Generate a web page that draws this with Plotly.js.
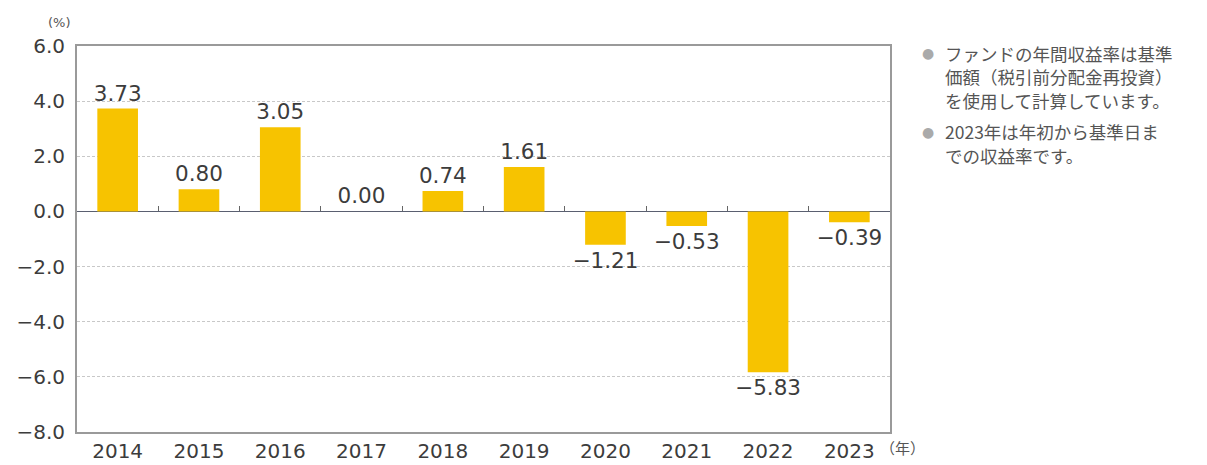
<!DOCTYPE html>
<html><head><meta charset="utf-8">
<script src="https://cdn.plot.ly/plotly-3.0.1.min.js"></script>
<style>html,body{margin:0;padding:0;background:#fff;}#chart{width:1207px;height:465px;}</style>
</head><body><div id="chart"></div>
<script>
const years = ['2014','2015','2016','2017','2018','2019','2020','2021','2022','2023'];
const returns = [3.73, 0.80, 3.05, 0.00, 0.74, 1.61, -1.21, -0.53, -5.83, -0.39];
const yTicks = [6, 4, 2, 0, -2, -4, -6, -8];
const notes = [
  ['ファンドの年間収益率は基準', '価額（税引前分配金再投資）', 'を使用して計算しています。'],
  ['2023年は年初から基準日ま', 'での収益率です。']
];
const labels = returns.map(v => (v < 0 ? '\u2212' : '') + Math.abs(v).toFixed(2));
const boundaries = years.slice(1).map((_, i) => i + 0.5);

const numFont = 'DejaVu Sans, sans-serif';
const jpFont = 'Noto Sans CJK JP, sans-serif';

const traces = [{
  type: 'bar', x: years, y: returns,
  marker: {color: '#F7C300'}, width: 0.5,
  text: labels, textposition: 'outside', cliponaxis: false, constraintext: 'none',
  textfont: {family: numFont, size: 21.5, color: '#3c3c3c'},
  hoverinfo: 'none'
}];

const annotations = [];
let yPos = 53;
notes.forEach(group => {
  group.forEach((line, i) => {
    annotations.push({xref: 'paper', yref: 'paper', x: 1, y: 0, xanchor: 'left', yanchor: 'middle',
      text: line, showarrow: false, font: {family: jpFont, size: 17.5, color: '#555'},
      xshift: 53, yshift: 465 - 33 - yPos});
    if (i === 0) {
      annotations.push({xref: 'paper', yref: 'paper', x: 1, y: 0, xanchor: 'center', yanchor: 'middle',
        text: '●', showarrow: false, font: {family: numFont, size: 14, color: '#aaa'},
        xshift: 38, yshift: 465 - 33 - yPos});
    }
    yPos += 23.5;
  });
  yPos += 8;
});
annotations.push({xref: 'paper', yref: 'paper', x: 0, y: 1, xanchor: 'center', yanchor: 'bottom',
  text: '(%)', showarrow: false, font: {family: numFont, size: 13, color: '#555'}, xshift: -18, yshift: 14});
annotations.push({xref: 'paper', yref: 'paper', x: 1, y: 0, xanchor: 'left', yanchor: 'top',
  text: '（年）', showarrow: false, font: {family: jpFont, size: 15, color: '#555'}, xshift: -12, yshift: -3});

const layout = {
  width: 1207, height: 465,
  margin: {l: 77, r: 317, t: 46, b: 33},
  paper_bgcolor: '#fff', plot_bgcolor: '#fff',
  showlegend: false,
  bargap: 0.5,
  xaxis: {type: 'category', range: [-0.5, 9.5], showline: true, mirror: true, linecolor: '#9a9a9a', linewidth: 2,
    ticks: '', showgrid: false, tickfont: {family: numFont, size: 20, color: '#3c3c3c'}, fixedrange: true},
  xaxis2: {overlaying: 'x', anchor: 'free', position: 8/14, range: [-0.5, 9.5], showline: false,
    ticks: 'inside', ticklen: 5, tickcolor: '#666', tickwidth: 1, tickvals: boundaries,
    showticklabels: false, showgrid: false, zeroline: false},
  yaxis: {range: [-8, 6], tickvals: yTicks, tickformat: '.1f', showline: true, mirror: true,
    linecolor: '#9a9a9a', linewidth: 2, gridcolor: '#c8c8c8', griddash: '3px,2px', gridwidth: 1,
    zeroline: true, zerolinecolor: '#5a5f70', zerolinewidth: 1.5, ticks: '', ticklabelstandoff: 6,
    tickfont: {family: numFont, size: 20, color: '#3c3c3c'}, fixedrange: true},
  annotations: annotations
};
traces.push({type: 'scatter', x: [0], y: [0], xaxis: 'x2', yaxis: 'y', mode: 'markers',
  marker: {opacity: 0}, hoverinfo: 'none'});
Plotly.newPlot('chart', traces, layout, {displayModeBar: false, staticPlot: true});
</script></body></html>
